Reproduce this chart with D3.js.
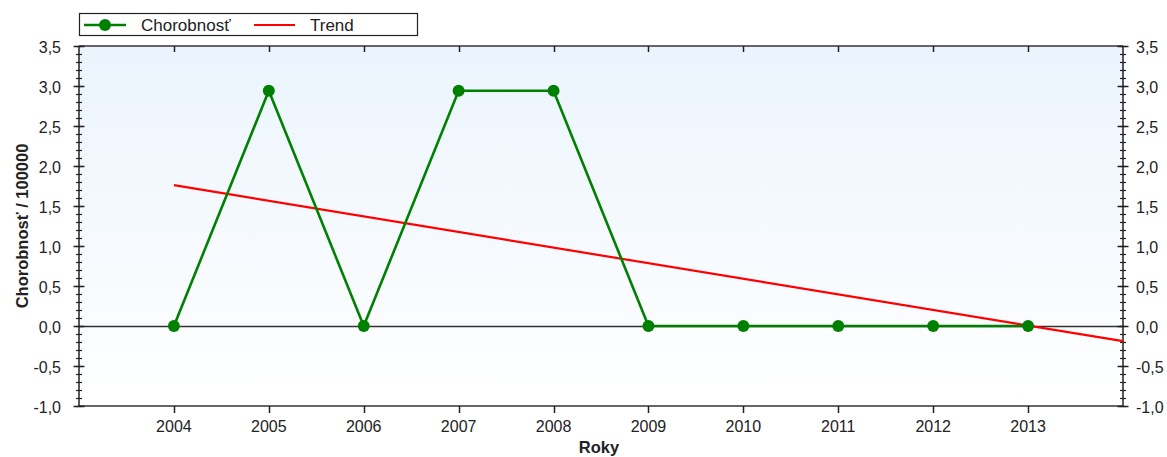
<!DOCTYPE html>
<html><head><meta charset="utf-8">
<script src="https://cdn.jsdelivr.net/npm/d3@7"></script>
<style>body{margin:0;background:#fff;}svg{display:block;font-family:"Liberation Sans",Arial,sans-serif;}</style>
</head><body><svg id="c" width="1167" height="457"></svg>
<script>
const years = [2004,2005,2006,2007,2008,2009,2010,2011,2012,2013];
const values = [0,2.94,0,2.94,2.94,0,0,0,0,0];
const trendYears = [2004,2014];
const trendValues = [1.76,-0.19];
const yTicks = [-1.0,-0.5,0,0.5,1.0,1.5,2.0,2.5,3.0,3.5];
const seriesName = "Chorobnosť";
const trendName = "Trend";
const yTitle = "Chorobnosť / 100000";
const xTitle = "Roky";

const svg = d3.select("#c");
const L=79,R=1123,T=46,B=406;
const x = d3.scaleLinear().domain([2003,2014]).range([L,R]);
const y = d3.scaleLinear().domain([-1,3.5]).range([B,T]);
const fmt = d => d3.format(".1f")(d).replace(".",",").replace("\u2212","-");

const defs = svg.append("defs");
const g = defs.append("linearGradient").attr("id","bg").attr("x1",0).attr("y1",0).attr("x2",0).attr("y2",1);
g.append("stop").attr("offset","0%").attr("stop-color","#ebf4fd");
g.append("stop").attr("offset","100%").attr("stop-color","#ffffff");
svg.append("rect").attr("x",L).attr("y",T).attr("width",R-L).attr("height",B-T).attr("fill","url(#bg)");

// zero line
svg.append("line").attr("x1",L).attr("x2",R).attr("y1",y(0)+0.5).attr("y2",y(0)+0.5).attr("stroke","#333").attr("stroke-width",1.3);

// frame lines
svg.append("line").attr("x1",L).attr("x2",R).attr("y1",T).attr("y2",T).attr("stroke","#333").attr("stroke-width",1.5);
svg.append("line").attr("x1",L).attr("x2",R).attr("y1",B).attr("y2",B).attr("stroke","#333").attr("stroke-width",1.5);

// y axes
const minor = d3.range(-10,36).map(d=>d/10);
function yAxis(xpos, side){
  const ga = svg.append("g");
  ga.append("line").attr("x1",xpos).attr("x2",xpos).attr("y1",T).attr("y2",B).attr("stroke","#222").attr("stroke-width",1.5);
  ga.selectAll(".mn").data(minor).join("line").attr("x1",xpos-3).attr("x2",xpos+3)
    .attr("y1",d=>Math.round(y(d))+0.5).attr("y2",d=>Math.round(y(d))+0.5).attr("stroke","#222").attr("stroke-width",1.2);
  ga.selectAll(".mj").data(yTicks).join("line").attr("x1",xpos-5.5).attr("x2",xpos+5.5)
    .attr("y1",d=>Math.round(y(d))+0.5).attr("y2",d=>Math.round(y(d))+0.5).attr("stroke","#222").attr("stroke-width",1.5);
  ga.selectAll("text").data(yTicks).join("text")
    .attr("x", side==="left"? xpos-18 : xpos+13).attr("y",d=>y(d)+6.5)
    .attr("text-anchor", side==="left"?"end":"start").attr("font-size",16).attr("fill","#222").text(fmt);
}
yAxis(L,"left"); yAxis(R,"right");

// x ticks
const xa = svg.append("g");
xa.selectAll(".b").data(years).join("line").attr("x1",d=>Math.round(x(d))+0.5).attr("x2",d=>Math.round(x(d))+0.5)
  .attr("y1",B).attr("y2",B+7).attr("stroke","#222").attr("stroke-width",1.5);
xa.selectAll(".t").data(years).join("line").attr("x1",d=>Math.round(x(d))+0.5).attr("x2",d=>Math.round(x(d))+0.5)
  .attr("y1",T).attr("y2",T+6).attr("stroke","#222").attr("stroke-width",1.5);
xa.selectAll("text").data(years).join("text").attr("x",d=>x(d)).attr("y",432).attr("text-anchor","middle")
  .attr("font-size",16).attr("fill","#222").text(d=>d);

// trend
svg.append("path").datum(trendYears.map((d,i)=>[d,trendValues[i]]))
  .attr("d",d3.line().x(d=>x(d[0])).y(d=>y(d[1]))).attr("fill","none").attr("stroke","#ff0000").attr("stroke-width",2.2);

// series
svg.append("path").datum(years.map((d,i)=>[d,values[i]]))
  .attr("d",d3.line().x(d=>x(d[0])).y(d=>y(d[1]))).attr("fill","none").attr("stroke","#008000").attr("stroke-width",2.6);
svg.selectAll(".pt").data(years).join("circle").attr("cx",d=>x(d)).attr("cy",(d,i)=>y(values[i]))
  .attr("r",6).attr("fill","#008000");

// titles
svg.append("text").attr("x",599).attr("y",453).attr("text-anchor","middle").attr("font-size",16.5).attr("font-weight","bold").attr("fill","#222").text(xTitle);
svg.append("text").attr("transform",`translate(28,${(T+B)/2}) rotate(-90)`).attr("text-anchor","middle")
  .attr("font-size",16.5).attr("font-weight","bold").attr("fill","#222").text(yTitle);

// legend
const lg = svg.append("g");
lg.append("rect").attr("x",79.5).attr("y",13.5).attr("width",338).attr("height",22).attr("fill","#fff").attr("stroke","#222").attr("stroke-width",1.2);
lg.append("line").attr("x1",84).attr("x2",126).attr("y1",25).attr("y2",25).attr("stroke","#008000").attr("stroke-width",2.6);
lg.append("circle").attr("cx",105).attr("cy",25).attr("r",6).attr("fill","#008000");
lg.append("text").attr("x",141).attr("y",30.5).attr("font-size",17).attr("fill","#222").text(seriesName);
lg.append("line").attr("x1",254).attr("x2",295).attr("y1",25).attr("y2",25).attr("stroke","#ff0000").attr("stroke-width",2.2);
lg.append("text").attr("x",310).attr("y",30.5).attr("font-size",17).attr("fill","#222").text(trendName);
</script></body></html>
